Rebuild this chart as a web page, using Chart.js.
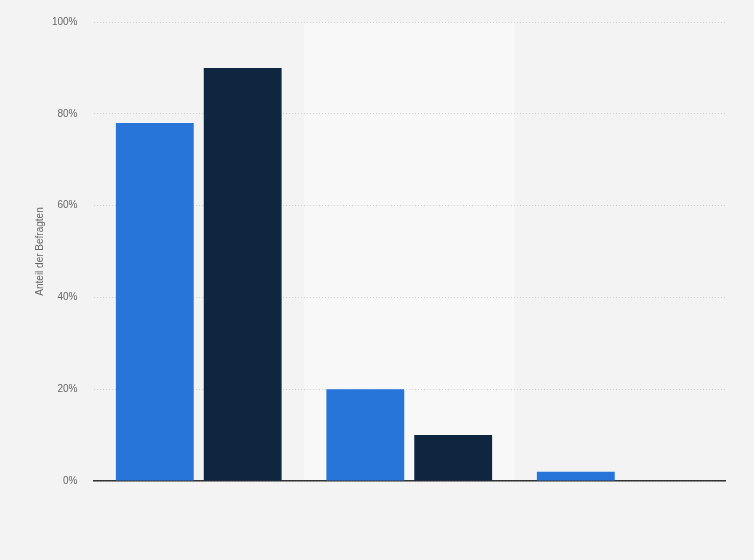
<!doctype html>
<html>
<head>
	<title>Anteil der Befragten</title>
	<script src="https://cdn.jsdelivr.net/npm/chart.js@4/dist/chart.umd.min.js"></script>
	<style>
	html, body {
		margin: 0;
		padding: 0;
		background: #f3f3f3;
	}
	.chart-container {
		width: 754px;
		height: 560px;
	}
	</style>
</head>
<body>
	<div class="chart-container">
		<canvas id="chart" width="754" height="560"></canvas>
	</div>
	<script>
		var categories = ['', '', ''];
		var seriesA = [78, 20, 2];
		var seriesB = [90, 10, 0];
		var yTicks = [0, 20, 40, 60, 80, 100];

		// lighter band behind the middle category, drawn before the grid
		var bandPlugin = {
			id: 'band',
			beforeDraw: function(chart) {
				var ctx = chart.ctx;
				var x = chart.scales.x;
				var area = chart.chartArea;
				var w = (area.right - area.left) / categories.length;
				var cx = x.getPixelForValue(1);
				ctx.save();
				ctx.fillStyle = '#f8f8f8';
				ctx.fillRect(cx - w / 2, area.top, w, area.bottom - area.top);
				ctx.restore();
			}
		};

		window.onload = function() {
			var ctx = document.getElementById('chart').getContext('2d');
			new Chart(ctx, {
				type: 'bar',
				data: {
					labels: categories,
					datasets: [{
						data: seriesA,
						backgroundColor: '#2775d9',
						categoryPercentage: 0.835,
						barPercentage: 0.886
					}, {
						data: seriesB,
						backgroundColor: '#0f2640',
						categoryPercentage: 0.835,
						barPercentage: 0.886
					}]
				},
				options: {
					responsive: false,
					animation: false,
					layout: {
						padding: { top: 10, right: 29, bottom: 71, left: 34 }
					},
					plugins: {
						legend: { display: false },
						tooltip: { enabled: false }
					},
					scales: {
						x: {
							grid: { display: false },
							ticks: { display: false },
							border: { color: '#333333', width: 1.5 }
						},
						y: {
							min: 0,
							max: 100,
							afterBuildTicks: function(axis) {
								axis.ticks = yTicks.map(function(v) { return { value: v }; });
							},
							afterFit: function(axis) {
								axis.width = 59.5;
							},
							grid: {
								color: '#d0d0d0',
								drawTicks: false
							},
							border: { display: false, dash: [1, 2] },
							ticks: {
								padding: 16,
								color: '#666666',
								font: { family: 'Liberation Sans', size: 10 },
								callback: function(v) { return v + '%'; }
							},
							title: {
								display: true,
								text: 'Anteil der Befragten',
								color: '#666666',
								padding: 0,
								font: { family: 'Liberation Sans', size: 10 }
							}
						}
					}
				},
				plugins: [bandPlugin]
			});
		};
	</script>
</body>
</html>
